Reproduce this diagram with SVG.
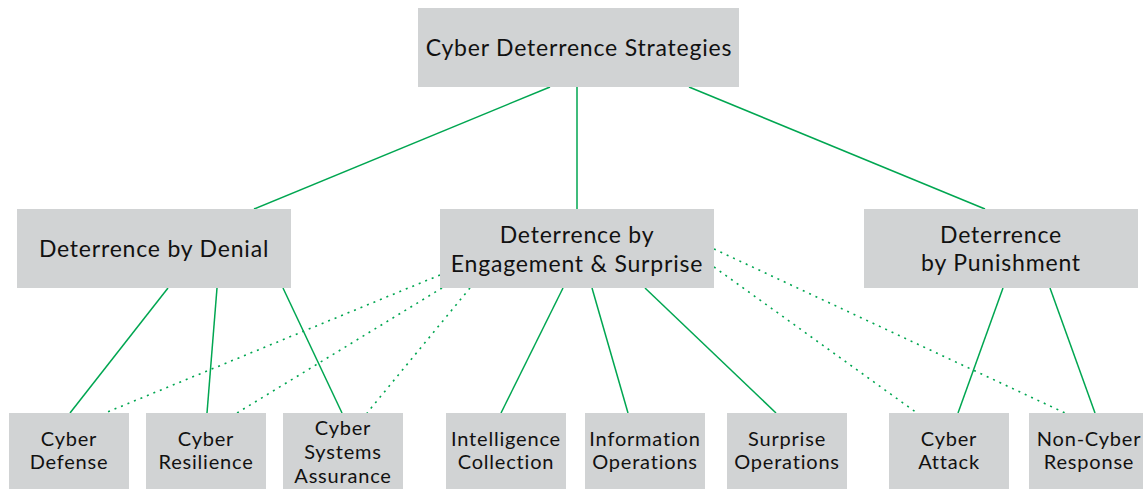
<svg xmlns="http://www.w3.org/2000/svg" width="1143" height="489" viewBox="0 0 1143 489">
<style>
.box{fill:#d1d3d4}
.t{font-family:Lato,"Noto Sans","Liberation Sans",sans-serif;fill:#111;text-anchor:middle;letter-spacing:0.8px}
.big{font-size:23px}
.sm{font-size:20px}
.c{stroke:#00a651;stroke-width:1.5;fill:none}
.d{stroke:#00a651;stroke-width:1.6;fill:none;stroke-dasharray:2 5}
</style>
<rect width="1143" height="489" fill="#fff"/>
<g id="connectors">
<line class="c" x1="550" y1="87" x2="254" y2="209"/>
<line class="c" x1="577" y1="87" x2="577" y2="209"/>
<line class="c" x1="689" y1="87" x2="985" y2="209"/>
<line class="c" x1="168" y1="288" x2="70" y2="413"/>
<line class="c" x1="217" y1="288" x2="207" y2="413"/>
<line class="c" x1="283" y1="288" x2="342" y2="413"/>
<line class="c" x1="563" y1="288" x2="501" y2="413"/>
<line class="c" x1="592" y1="288" x2="628" y2="413"/>
<line class="c" x1="645" y1="288" x2="776" y2="413"/>
<line class="c" x1="1003" y1="288" x2="958" y2="413"/>
<line class="c" x1="1050" y1="288" x2="1095" y2="413"/>
<line class="d" x1="440" y1="275" x2="105" y2="413"/>
<line class="d" x1="442" y1="288" x2="237" y2="413"/>
<line class="d" x1="470" y1="288" x2="367" y2="413"/>
<line class="d" x1="714" y1="249" x2="1065" y2="413"/>
<line class="d" x1="714" y1="267" x2="917" y2="413"/>
</g>
<g id="root"><rect class="box" x="418" y="8" width="321" height="79"/><text class="t big" x="579" y="56">Cyber Deterrence Strategies</text></g>
<g id="denial"><rect class="box" x="17" y="209" width="274" height="79"/><text class="t big" x="154" y="257">Deterrence by Denial</text></g>
<g id="engagement"><rect class="box" x="440" y="209" width="274" height="79"/><text class="t big" x="577" y="243">Deterrence by</text><text class="t big" x="577" y="272">Engagement &amp; Surprise</text></g>
<g id="punishment"><rect class="box" x="864" y="209" width="274" height="79"/><text class="t big" x="1001" y="243">Deterrence</text><text class="t big" x="1001" y="271">by Punishment</text></g>
<g id="cyber-defense"><rect class="box" x="9" y="413" width="120" height="80"/><text class="t sm" x="69" y="446">Cyber</text><text class="t sm" x="69" y="469">Defense</text></g>
<g id="cyber-resilience"><rect class="box" x="146" y="413" width="120" height="80"/><text class="t sm" x="206" y="446">Cyber</text><text class="t sm" x="206" y="469">Resilience</text></g>
<g id="cyber-systems-assurance"><rect class="box" x="283" y="413" width="120" height="80"/><text class="t sm" x="343" y="435">Cyber</text><text class="t sm" x="343" y="459">Systems</text><text class="t sm" x="343" y="483">Assurance</text></g>
<g id="intelligence-collection"><rect class="box" x="446" y="413" width="120" height="80"/><text class="t sm" x="506" y="446">Intelligence</text><text class="t sm" x="506" y="469">Collection</text></g>
<g id="information-operations"><rect class="box" x="585" y="413" width="120" height="80"/><text class="t sm" x="645" y="446">Information</text><text class="t sm" x="645" y="469">Operations</text></g>
<g id="surprise-operations"><rect class="box" x="727" y="413" width="120" height="80"/><text class="t sm" x="787" y="446">Surprise</text><text class="t sm" x="787" y="469">Operations</text></g>
<g id="cyber-attack"><rect class="box" x="889" y="413" width="120" height="80"/><text class="t sm" x="949" y="446">Cyber</text><text class="t sm" x="949" y="469">Attack</text></g>
<g id="non-cyber-response"><rect class="box" x="1029" y="413" width="120" height="80"/><text class="t sm" x="1089" y="446">Non-Cyber</text><text class="t sm" x="1089" y="469">Response</text></g>
</svg>
